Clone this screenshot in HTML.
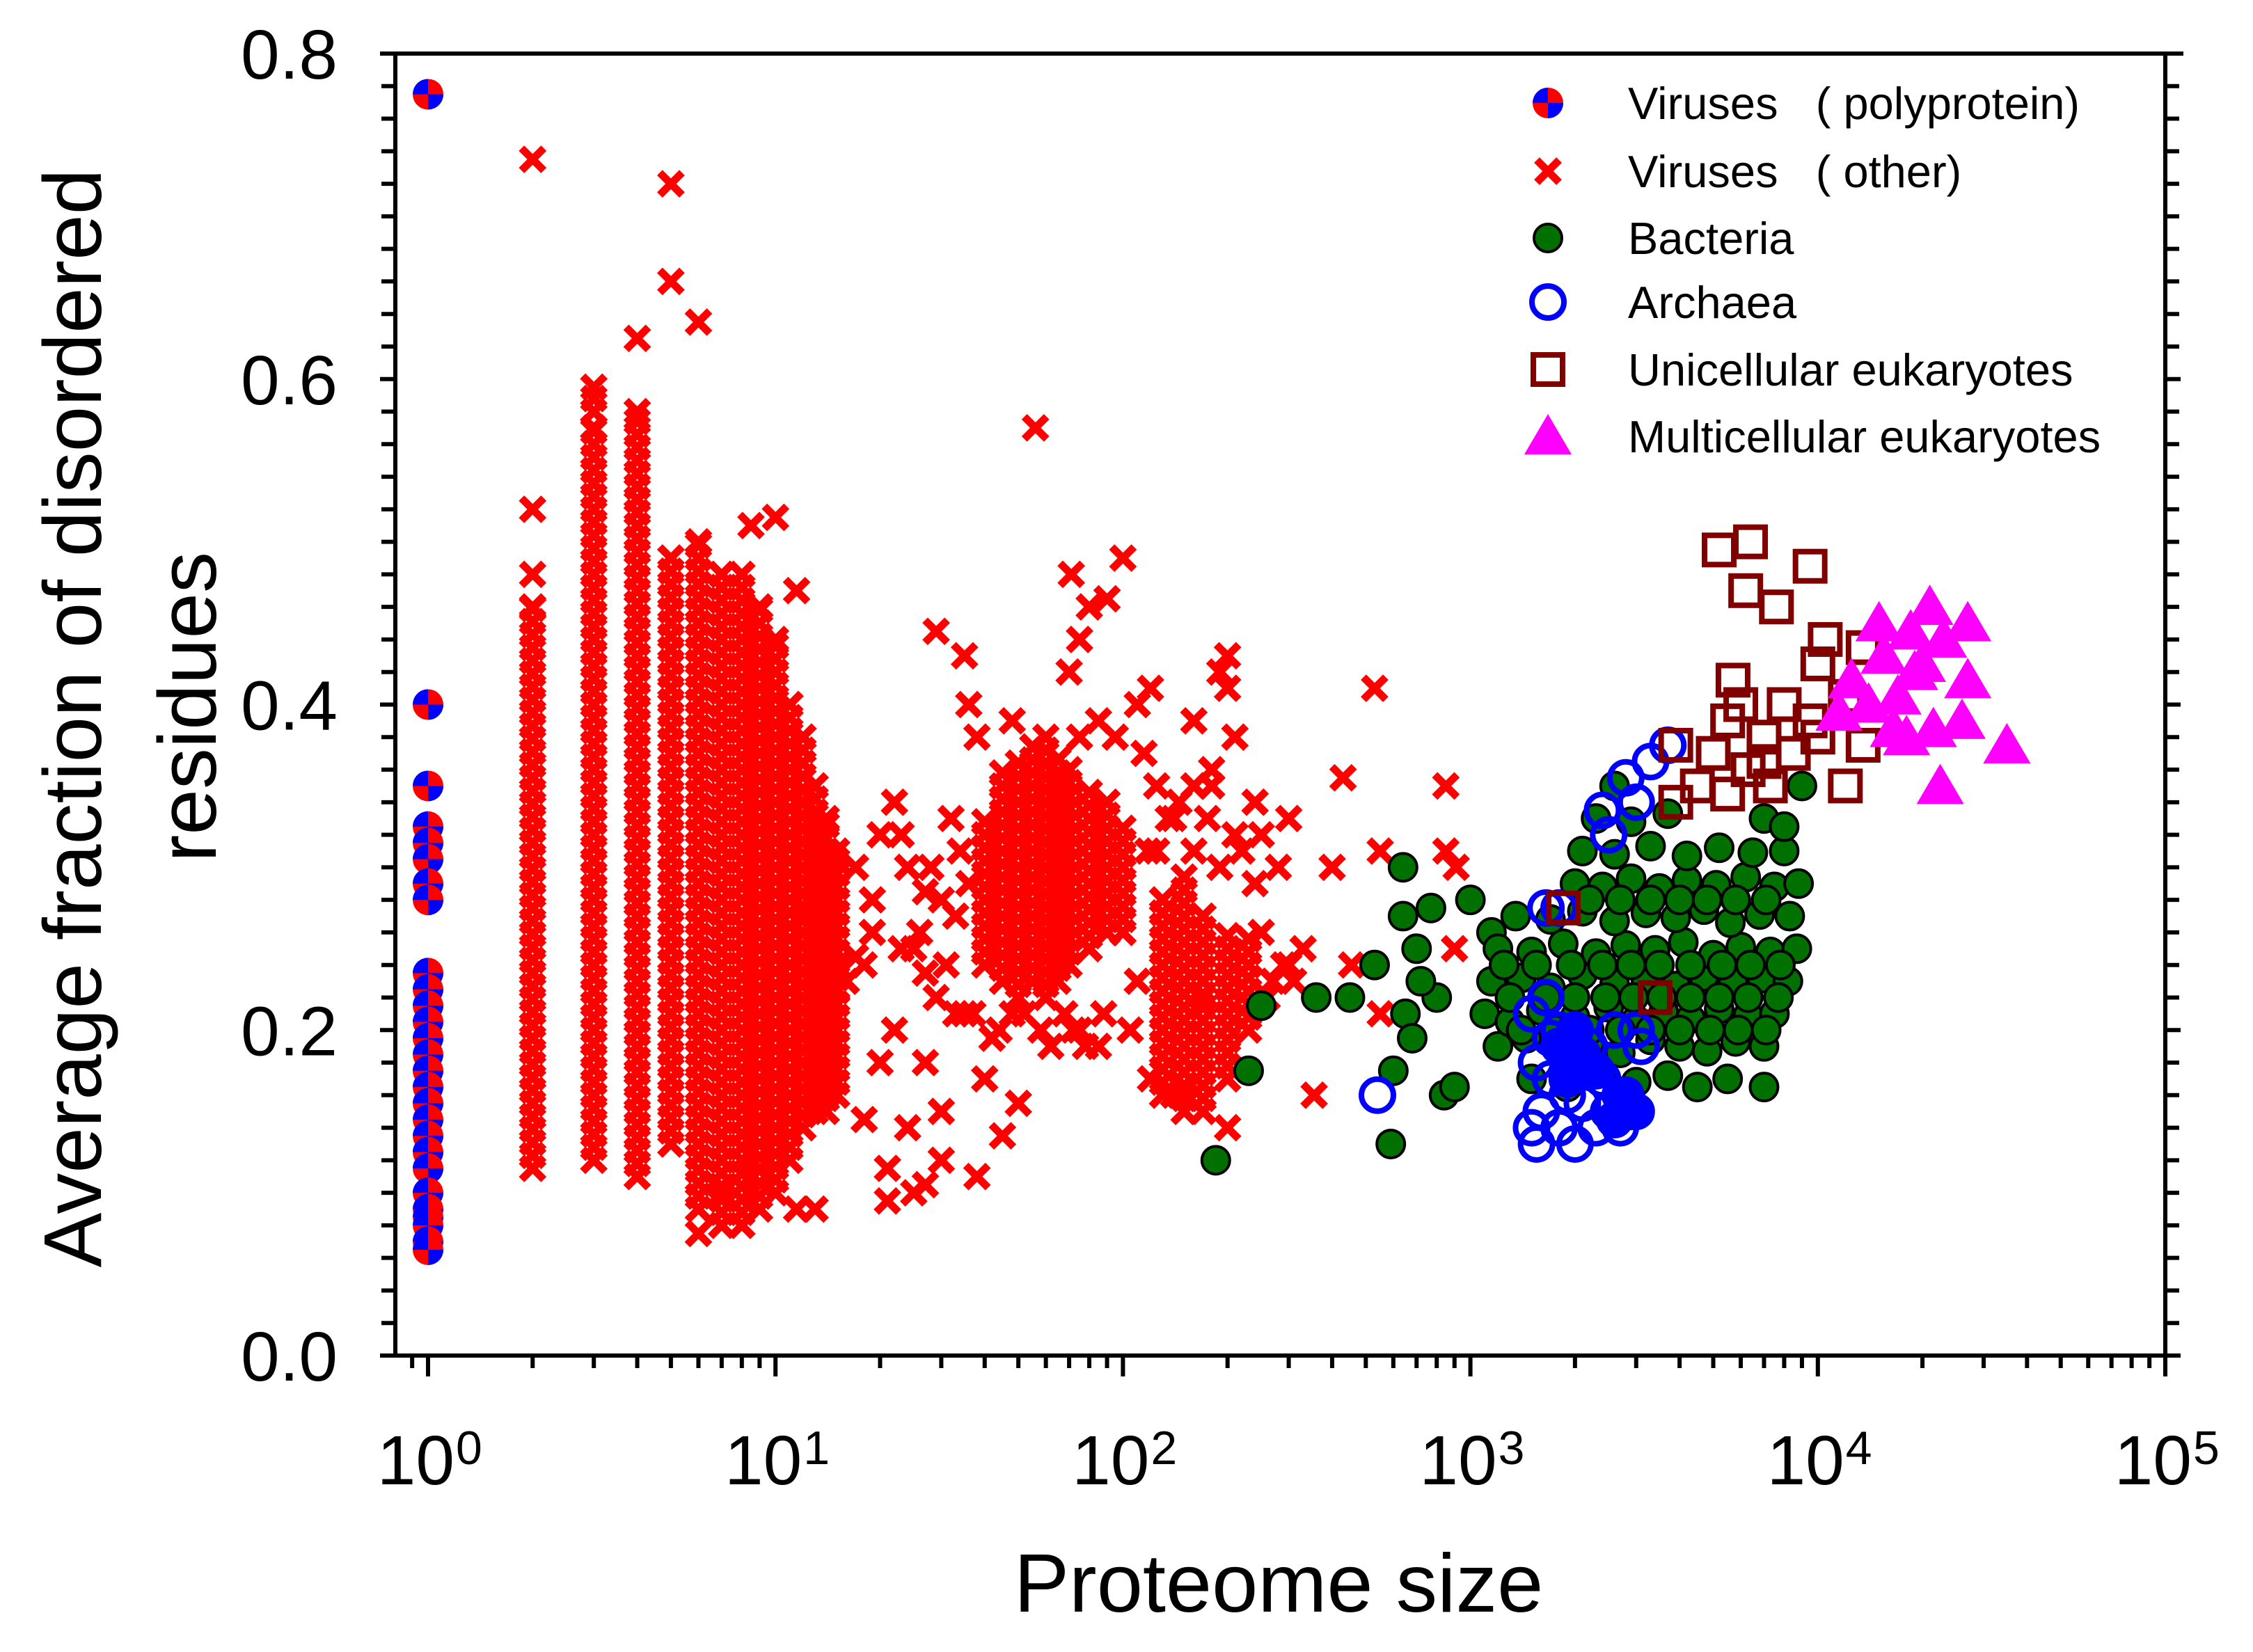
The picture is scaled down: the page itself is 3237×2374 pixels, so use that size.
<!DOCTYPE html>
<html><head><meta charset="utf-8"><style>
html,body{margin:0;padding:0;background:#fff}
svg{display:block}
text{font-family:"Liberation Sans",Arial,sans-serif;fill:#000}
</style></head><body>
<svg id="chart" width="3237" height="2374" viewBox="0 0 3237 2374" xmlns="http://www.w3.org/2000/svg">
<rect width="3237" height="2374" fill="#fff"/>
<g id="marks"></g>
<g id="axes"></g>
<g id="legend"></g>
<text x="1837" y="2316" font-size="119" text-anchor="middle">Proteome size</text>
<text transform="translate(145,1032) rotate(-90)" font-size="118" text-anchor="middle">Average fraction of disordered</text>
<text transform="translate(310,1016) rotate(-90)" font-size="118" text-anchor="middle">residues</text>
</svg>
<script>
// ---- data ----
const polyproteinY = [0.775,0.40,0.35,0.325,0.315,0.305,0.29,0.28,0.235,0.225,0.215,0.205,0.195,0.185,0.175,0.165,0.155,0.145,0.135,0.125,0.115,0.10,0.09,0.085,0.08,0.07,0.065];
const stackX = [2,3,3,4,5,6,7,8,9,10,11,12,13,14,15];
const stackLo = [0.115,0.12,0.58,0.11,0.13,0.09,0.08,0.08,0.09,0.10,0.12,0.14,0.15,0.15,0.16];
const stackHi = [0.46,0.57,0.595,0.58,0.49,0.50,0.48,0.48,0.46,0.44,0.40,0.38,0.35,0.33,0.31];
const bandX = [40,45,50,55,60,65,70,80,90,100,130,150,170,200,230];
const bandLo = [0.24,0.23,0.22,0.23,0.22,0.23,0.24,0.25,0.26,0.26,0.16,0.15,0.15,0.17,0.20];
const bandHi = [0.33,0.36,0.37,0.38,0.38,0.37,0.36,0.35,0.34,0.33,0.28,0.30,0.27,0.26,0.26];
const virusX = [2,2,2,5,5,6,4,56,530,850,430,29,100,71,90,10,8.5,11.5,200,200,400,550,850,900,455,550,910,355,
  6,8,13,21,25,30,38,45,50,18,24,21,27,11.5,8.5,7,22,17,19,17,15,27,33,42,40,22,27,33,27,23,
  35,36,38,70,75,80,110,120,140,160,180,250,280,300,260,180,200,140,120,20,25,30,16,18,12,35,28,
  65,75,85,48,44,160,190,210,240,300,330,170,150,
  30,32,34,36,26,24,20,19,23,29,31,37,110,115,125,118,105,95,85,75,48,52,58,62,68,72,78,88,
  270,290,310,250,240,220,210,190,175,160,145,135,125];
const virusY = [0.735,0.52,0.48,0.72,0.66,0.635,0.625,0.57,0.41,0.35,0.355,0.445,0.49,0.48,0.465,0.515,0.51,0.47,0.43,0.41,0.30,0.31,0.31,0.25,0.24,0.21,0.30,0.16,
  0.075,0.08,0.09,0.095,0.10,0.12,0.11,0.135,0.155,0.145,0.14,0.115,0.105,0.09,0.11,0.10,0.34,0.30,0.26,0.245,0.225,0.235,0.21,0.195,0.17,0.20,0.18,0.27,0.285,0.32,
  0.43,0.40,0.38,0.42,0.44,0.46,0.40,0.41,0.33,0.35,0.36,0.32,0.30,0.24,0.22,0.35,0.14,0.16,0.17,0.18,0.25,0.28,0.23,0.24,0.27,0.21,0.30,0.32,
  0.20,0.19,0.21,0.20,0.39,0.42,0.38,0.34,0.33,0.25,0.22,0.16,0.15,
  0.33,0.31,0.29,0.26,0.30,0.32,0.28,0.25,0.22,0.24,0.21,0.23,0.37,0.35,0.31,0.20,0.38,0.39,0.38,0.39,0.21,0.20,0.19,0.21,0.20,0.19,0.21,0.23,
  0.24,0.23,0.26,0.29,0.31,0.32,0.30,0.33,0.31,0.34,0.33,0.31,0.30];
const bactX = [185,230,250,360,450,530,600,590,640,640,700,770,800,840,900,1000,1150,
  1500,1900,2400,3000,3700,4500,5500,7000,
  1200,1450,1800,2200,2700,3300,4000,4800,5800,7000,
  1100,1300,1600,2000,2500,3000,3600,4300,5200,6300,7500,
  1150,1400,1700,2100,2600,3200,3900,4700,5700,6900,8200,
  1200,1500,1850,2300,2800,3400,4100,5000,6000,7300,8700,
  1350,1700,2100,2600,3200,3900,4700,5600,6800,8300,
  2000,2400,2900,3500,4200,5100,6200,7500,8800,
  2100,2600,3300,4200,5200,6500,8000,
  2300,2900,3700,7000,8000,2600,9000,
  1300,1650,2000,2450,2950,3550,4300,5200,6300,7700,
  1250,1550,1950,2400,2900,3500,4300,5300,6400,7800,
  1400,1750,2200,2700,3300,4000,4900,5900,7100,
  2200,2700,3300,4000,4800,5800,7100,650,680,720];
const bactY = [0.12,0.175,0.215,0.22,0.22,0.24,0.175,0.13,0.30,0.27,0.25,0.275,0.22,0.16,0.165,0.28,0.26,
  0.17,0.165,0.175,0.168,0.172,0.165,0.17,0.165,
  0.19,0.195,0.188,0.192,0.186,0.194,0.19,0.187,0.193,0.19,
  0.21,0.205,0.212,0.208,0.214,0.206,0.211,0.207,0.213,0.209,0.21,
  0.23,0.232,0.226,0.234,0.228,0.231,0.227,0.233,0.229,0.232,0.23,
  0.25,0.248,0.253,0.247,0.252,0.249,0.254,0.246,0.251,0.248,0.25,
  0.27,0.268,0.273,0.267,0.272,0.269,0.274,0.266,0.271,0.27,
  0.29,0.288,0.293,0.287,0.292,0.289,0.294,0.288,0.29,
  0.31,0.308,0.313,0.307,0.312,0.309,0.31,
  0.33,0.328,0.333,0.33,0.325,0.35,0.35,
  0.22,0.22,0.22,0.22,0.22,0.22,0.22,0.22,0.22,0.22,
  0.24,0.24,0.24,0.24,0.24,0.24,0.24,0.24,0.24,0.24,
  0.20,0.20,0.20,0.20,0.20,0.20,0.20,0.20,0.20,
  0.28,0.28,0.28,0.28,0.28,0.28,0.28,0.21,0.195,0.23];
const archX = [540,1650,1800,2400,2800,3300,3700,3000,2500,
  1500,1550,1600,1500,1550,1700,1800,1900,2000,2000,2200,2400,2500,2700,2800,3000,3100,2900,1650,1800,2300,2600,1700,2100];
const archY = [0.16,0.275,0.275,0.335,0.355,0.365,0.375,0.34,0.32,
  0.21,0.18,0.15,0.14,0.13,0.17,0.20,0.16,0.13,0.18,0.19,0.17,0.15,0.14,0.16,0.20,0.19,0.15,0.22,0.14,0.14,0.20,0.195,0.155];
const archFilledX = [2600,2800,3000,2700,1900,2100,1800,2000,2300];
const archFilledY = [0.145,0.15,0.15,0.16,0.17,0.185,0.19,0.2,0.175];
const uniX = [5200,6400,6200,7600,9500,10500,13500,10000,12000,5700,6000,8000,9500,7000,5500,5000,3900,4500,3900,5500,7300,13500,12000,8500,6300,1850,3400,10000,7000];
const uniY = [0.495,0.50,0.47,0.46,0.485,0.44,0.435,0.425,0.405,0.415,0.40,0.40,0.39,0.38,0.39,0.37,0.375,0.35,0.34,0.345,0.35,0.375,0.35,0.37,0.36,0.275,0.22,0.38,0.365];
const multiX = [15000,18500,21000,27000,11500,27000,26000,35000,22500,17000,14000,15500,20000,21500,18000,23000,12500,19000,16500];
const multiY = [0.45,0.445,0.46,0.45,0.395,0.415,0.39,0.375,0.35,0.405,0.40,0.43,0.425,0.385,0.38,0.44,0.415,0.42,0.385];
const yTickLabels = ["0.0","0.2","0.4","0.6","0.8"];
const yTickValues = [0,0.2,0.4,0.6,0.8];
const xTickExps = ["0","1","2","3","4","5"];

// ---- scales ----
const X0=615, DEC=499.2, YB=1948, YT=77;
const L=568, R=3111;
function sx(v){return X0+Math.log10(v)*DEC;}
function sy(v){return YB-(v/0.8)*(YB-YT);}
const NS="http://www.w3.org/2000/svg";
function mk(tag,attrs,parent){const e=document.createElementNS(NS,tag);for(const k in attrs)e.setAttribute(k,attrs[k]);parent.appendChild(e);return e;}
const marks=document.getElementById('marks'), axes=document.getElementById('axes'), legend=document.getElementById('legend');

function cross(cx,cy,g){
  const p=mk('path',{d:`M${cx-16},${cy-16}L${cx+16},${cy+16}M${cx-16},${cy+16}L${cx+16},${cy-16}`,stroke:'#ff0000','stroke-width':11,fill:'none'},g);
  
  
}
function poly(cx,cy,g){
  const gg=mk('g',{},g);
  
  
  const r=22;
  mk('circle',{cx:cx,cy:cy,r:r,fill:'#ff0000'},gg);
  mk('path',{d:`M${cx},${cy}L${cx-r},${cy}A${r},${r} 0 0 1 ${cx},${cy-r}Z`,fill:'#0000ff'},gg);
  mk('path',{d:`M${cx},${cy}L${cx+r},${cy}A${r},${r} 0 0 1 ${cx},${cy+r}Z`,fill:'#0000ff'},gg);
}
function bact(cx,cy,g){
  const c=mk('circle',{cx:cx,cy:cy,r:20,fill:'#007000',stroke:'#000','stroke-width':4},g);
  
  
}
function arch(cx,cy,g,filled){
  const c=mk('circle',{cx:cx,cy:cy,r:23,fill:filled?'#0000ff':'none',stroke:'#0000ff','stroke-width':8},g);
  
  
}
function sq(cx,cy,g){
  const c=mk('rect',{x:cx-21,y:cy-21,width:42,height:42,fill:'none',stroke:'#800000','stroke-width':8},g);
  
  
}
function tri(cx,cy,g){
  const c=mk('path',{d:`M${cx},${cy-32}L${cx+34},${cy+26}L${cx-34},${cy+26}Z`,fill:'#ff00ff'},g);
  
  
}

const STEP=0.008;
for(let i=0;i<stackX.length;i++){
  for(let v=stackLo[i]; v<=stackHi[i]+1e-9; v+=STEP) cross(sx(stackX[i]),sy(v),marks);
  cross(sx(stackX[i]),sy(stackHi[i]),marks);
}
for(let i=0;i<bandX.length;i++){
  for(let v=bandLo[i]; v<=bandHi[i]+1e-9; v+=STEP) cross(sx(bandX[i]),sy(v),marks);
}
for(let i=0;i<virusX.length;i++) cross(sx(virusX[i]),sy(virusY[i]),marks);
for(const v of polyproteinY) poly(sx(1),sy(v),marks);
for(let i=0;i<bactX.length;i++) bact(sx(bactX[i]),sy(bactY[i]),marks);
for(let i=0;i<archX.length;i++) arch(sx(archX[i]),sy(archY[i]),marks,false);
for(let i=0;i<archFilledX.length;i++) arch(sx(archFilledX[i]),sy(archFilledY[i]),marks,true);
for(let i=0;i<uniX.length;i++) sq(sx(uniX[i]),sy(uniY[i]),marks);
for(let i=0;i<multiX.length;i++) tri(sx(multiX[i]),sy(multiY[i]),marks);

// ---- axes ----
const frame=mk('path',{d:`M${L},${YT}H3137M${L},${YT}V${YB}M${R},${YT}V${YB}M${L-18},${YB}H3128`,stroke:'#000','stroke-width':6,fill:'none'},axes);


for(let k=0;k<=40;k++){
  const y=sy(k*0.02);
  const len=(k%10===0)?22:20;
  mk('line',{x1:L-len,y1:y,x2:L,y2:y,stroke:'#000','stroke-width':6},axes);
  mk('line',{x1:R,y1:y,x2:R+len,y2:y,stroke:'#000','stroke-width':6},axes);
}
for(let i=0;i<yTickValues.length;i++){
  const t=mk('text',{x:485,y:sy(yTickValues[i])+36,'font-size':100,'text-anchor':'end'},axes);
  t.textContent=yTickLabels[i];
  
  
}
for(let e=-1;e<5;e++){
  for(let m=1;m<=9;m++){
    const x=X0+(e+Math.log10(m))*DEC;
    if(x<L-1||x>R+1) continue;
    const len=(m===1)?30:18;
    mk('line',{x1:x,y1:YB,x2:x,y2:YB+len,stroke:'#000','stroke-width':6},axes);
  }
}
mk('line',{x1:R,y1:YB,x2:R,y2:YB+30,stroke:'#000','stroke-width':6},axes);
for(let i=0;i<xTickExps.length;i++){
  const x=X0+i*DEC;
  const t=mk('text',{x:x+38,y:2133,'font-size':100,'text-anchor':'end'},axes);
  t.textContent='10';
  
  
  const s=mk('text',{x:x+40,y:2104,'font-size':68},axes);
  s.textContent=xTickExps[i];
  
  
}

// ---- legend ----
const legendLabels=["Viruses\u00a0\u00a0\u00a0( polyprotein)","Viruses\u00a0\u00a0\u00a0( other)","Bacteria","Archaea","Unicellular eukaryotes","Multicellular eukaryotes"];
const legendRows=[148,246,342,434,531,627];
const drawers=[poly,cross,bact,(x,y,g)=>arch(x,y,g,false),sq,tri];
for(let i=0;i<legendLabels.length;i++){
  const g=mk('g',{},legend);
  
  
  drawers[i](2224,legendRows[i],g);
  const t=mk('text',{x:2339,y:legendRows[i]+23,'font-size':65},g);
  t.textContent=legendLabels[i];
}
</script>
</body></html>
